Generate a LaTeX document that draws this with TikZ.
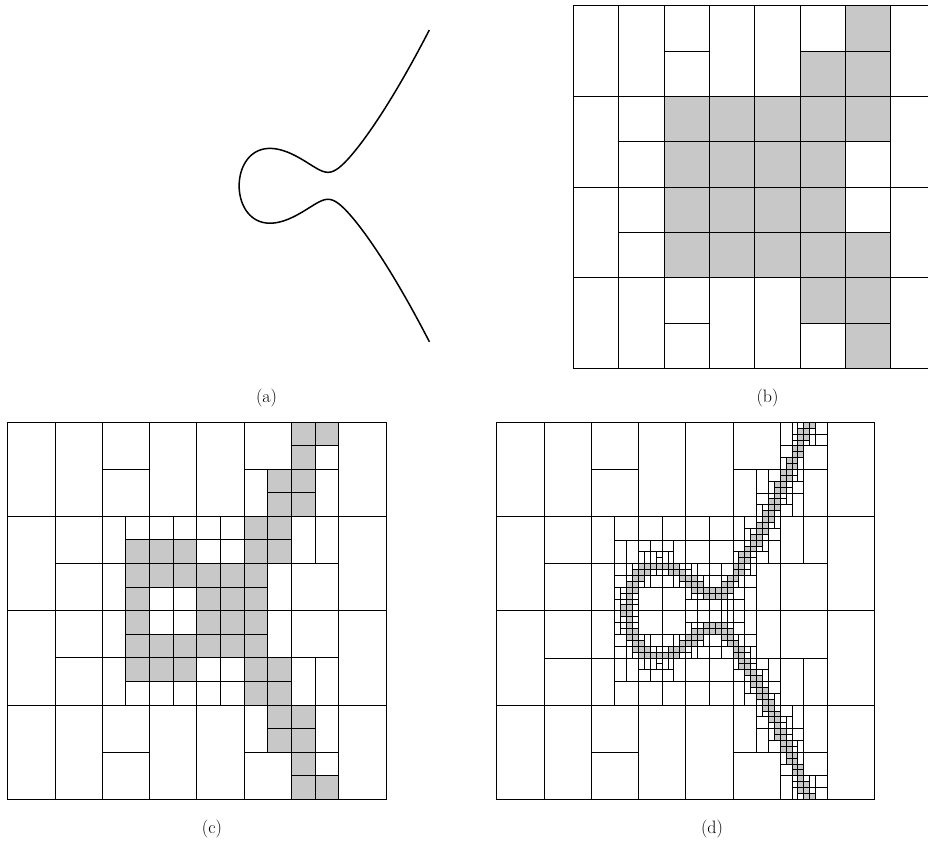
\documentclass[tikz,border=0pt]{standalone}
\usepackage{xfp}
\definecolor{cellgray}{RGB}{200,200,200}
\tikzset{
  cellline/.style={draw=black,line width=0.9pt},
  shadedcell/.style={cellline,fill=cellgray},
  lbl/.style={inner sep=0pt,font=\fontsize{18}{21}\selectfont},
  curveline/.style={line width=1.5pt,line join=round}
}
% lists (grid units of panel b; v measured downward)
\newcommand\bsplit{2/0,5/0,6/0,1/1,2/1,3/1,4/1,5/1,6/1,1/2,2/2,3/2,4/2,5/2,6/2,2/3,5/3,6/3}
\newcommand\bshaded{6/0,5/1,6/1,2/2,3/2,4/2,5/2,6/2,2/3,3/3,4/3,5/3}
\newcommand\ctall{5/1,6.5/1,2/2,6/2,6.5/2,2/3,5.5/3}
\newcommand\cwhite{6.5/0.5,2.5/2,3/2,3.5/2,4/2,4.5/2,4/2.5,4.5/2.5,3/3.5,3.5/3.5}
\newcommand\cshaded{6/0,6.5/0,6/0.5,5.5/1,6/1,5.5/1.5,6/1.5,5/2,5.5/2,2.5/2.5,3/2.5,3.5/2.5,5/2.5,5.5/2.5,2.5/3,3/3,3.5/3,4/3,4.5/3,5/3,2.5/3.5,4/3.5,4.5/3.5,5/3.5}
\newcommand\bgrid{%
  \foreach \gi in {0,...,7}{\foreach \gj in {0,...,3}{\draw[cellline] (\gi,2*\gj) rectangle ++(1,2);}}%
  \foreach \gi/\gj in \bsplit {\draw[cellline] (\gi,2*\gj+1) -- ++(1,0);}%
}
\newcommand\cstruct{%
  \foreach \ga/\gb in \ctall {\draw[cellline] (\ga,\gb) rectangle ++(0.5,1); \draw[cellline] (\ga,7-\gb) rectangle ++(0.5,1);}%
  \foreach \ga/\gb in \cwhite {\draw[cellline] (\ga,\gb) rectangle ++(0.5,0.5); \draw[cellline] (\ga,7.5-\gb) rectangle ++(0.5,0.5);}%
}
% curve model for the refinement of panel (d)
\newcommand\epsv{0.019}
\newcommand\Acoef{1.2}
\newcommand\dXc[2]{((((#1)+(#2)/2)-4.575)/1.74)}
\newcommand\dYc[2]{((4-((#1)+(#2)/2))/2.32)}
\newcommand\iscand[4]{\fpeval{abs((\dYc{#2}{#4})^2-(\dXc{#1}{#3})^3-(\dXc{#1}{#3})^2-\epsv) <= \Acoef*0.5*sqrt((#3)^2+(#4)^2)*sqrt(((3*(\dXc{#1}{#3})^2+2*(\dXc{#1}{#3}))/1.74)^2+(2*(\dYc{#2}{#4})/2.32)^2+0.000000000001)}}
\newcommand\drawbox[5]{%
  \edef\bxa{\fpeval{#1}}\edef\bxb{\fpeval{#2}}%
  \edef\bxc{\fpeval{(#1)+(#3)}}\edef\bxd{\fpeval{(#2)+(#4)}}%
  \filldraw[cellline,fill=#5] (\bxa,\bxb) rectangle (\bxc,\bxd);}
\newcommand\dleaf[4]{%
  \ifnum\iscand{#1}{#2}{#3}{#3}=1
    \ifnum#4=1 \drawbox{#1}{#2}{#3}{#3}{cellgray}%
    \else \dsq{#1}{#2}{#3}{\the\numexpr#4-1\relax}%
    \fi
  \else
    \drawbox{#1}{#2}{#3}{#3}{white}%
  \fi}
\newcommand\dhalf[5]{%
  \ifnum\iscand{#1}{#2}{#3}{#4}=1
    \dleaf{#1}{#2}{#3}{#5}%
    \dleaf{#1}{(#2)+(#3)}{#3}{#5}%
  \else
    \drawbox{#1}{#2}{#3}{#4}{white}%
  \fi}
\newcommand\dsq[4]{%
  \dhalf{#1}{#2}{(#3)/2}{#3}{#4}%
  \dhalf{(#1)+(#3)/2}{#2}{(#3)/2}{#3}{#4}}
\begin{document}
\begin{tikzpicture}[x=1pt,y=-1pt]
\useasboundingbox (0,0) rectangle (928,841);
% (a)
\draw[curveline] plot[domain=1.4789:0,samples=140,variable=\s] ({328+87*(\s*\s-1.0212)},{185.8+90.6*sqrt(max(0,(\s*\s-1.0212)*(\s*\s-1.0212)*(\s*\s-0.0212)+0.0222))})
  -- plot[domain=0:1.4789,samples=140,variable=\s] ({328+87*(\s*\s-1.0212)},{185.8-90.6*sqrt(max(0,(\s*\s-1.0212)*(\s*\s-1.0212)*(\s*\s-0.0212)+0.0222))});
\node[lbl] (la) at (266.5,398) {(a)};
% (b)
\begin{scope}[shift={(573.3,5.7)},x=45.33pt,y=-45.33pt]
  \bgrid
  \foreach \ga/\gb in \bshaded {\filldraw[shadedcell] (\ga,\gb) rectangle ++(1,1); \filldraw[shadedcell] (\ga,7-\gb) rectangle ++(1,1);}
\end{scope}
\node[lbl] (lb) at (767.5,398) {(b)};
% (c)
\begin{scope}[shift={(7.7,422)},x=47.29pt,y=-47.16pt]
  \bgrid
  \cstruct
  \foreach \ga/\gb in \cshaded {\filldraw[shadedcell] (\ga,\gb) rectangle ++(0.5,0.5); \filldraw[shadedcell] (\ga,7.5-\gb) rectangle ++(0.5,0.5);}
\end{scope}
\node[lbl] (lc) at (212,829) {(c)};
% (d)
\begin{scope}[shift={(496.7,422.3)},x=47.25pt,y=-47.13pt]
  \bgrid
  \cstruct
  \foreach \ca/\cb in \cshaded {\dsq{\ca}{\cb}{0.5}{2}\dsq{\ca}{7.5-\cb}{0.5}{2}}
\end{scope}
\node[lbl] (ld) at (712,829) {(d)};
\end{tikzpicture}
\end{document}
